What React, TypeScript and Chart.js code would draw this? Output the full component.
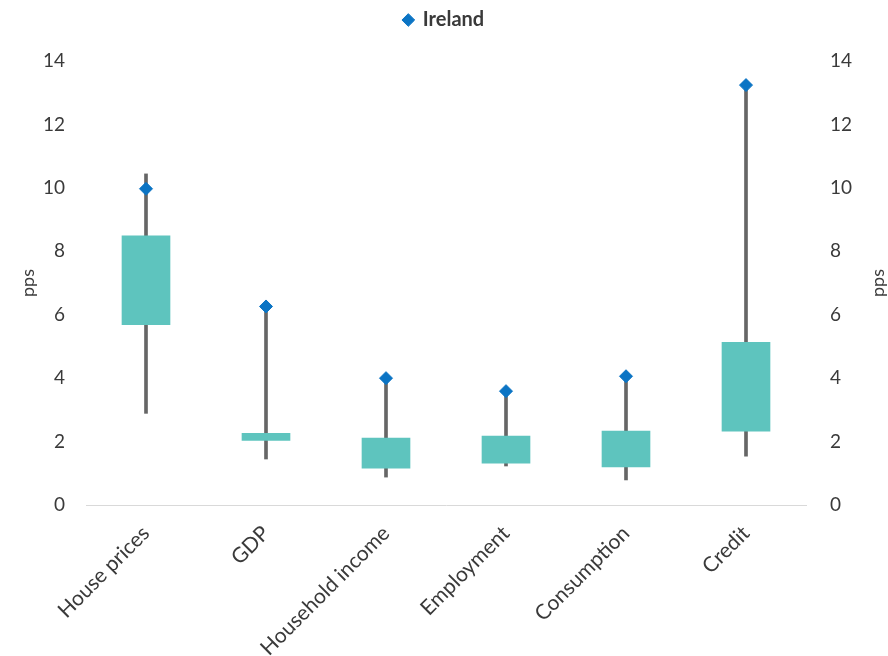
import React, { useEffect, useRef } from 'react';
import { Chart, registerables } from 'chart.js';

Chart.register(...registerables);

const categories = ['House prices', 'GDP', 'Household income', 'Employment', 'Consumption', 'Credit'];
const whiskerLow = [2.89, 1.45, 0.88, 1.23, 0.79, 1.54];
const whiskerHigh = [10.44, 6.26, 4.0, 3.59, 4.06, 13.24];
const boxLow = [5.69, 2.04, 1.16, 1.32, 1.2, 2.33];
const boxHigh = [8.49, 2.26, 2.11, 2.17, 2.33, 5.13];
const ireland = [9.97, 6.26, 4.0, 3.59, 4.06, 13.24];
const yMin = 0;
const yMax = 14;
const yStep = 2;
const axisTitle = 'pps';
const legendLabel = 'Ireland';

const FONT = 'Lato, "Open Sans", sans-serif';
const TEXT = '#3a3a3a';

const rightTitlePlugin = {
  id: 'rightTitle',
  afterDraw(chart: any) {
    const { ctx, chartArea } = chart;
    ctx.save();
    ctx.translate(chart.width - 10, (chartArea.top + chartArea.bottom) / 2);
    ctx.rotate(-Math.PI / 2);
    ctx.font = `18px ${FONT}`;
    ctx.fillStyle = TEXT;
    ctx.textAlign = 'center';
    ctx.textBaseline = 'middle';
    ctx.fillText(axisTitle, 0, 0);
    ctx.restore();
  },
};

const legendSpacerPlugin = {
  id: 'legendSpacer',
  beforeInit(chart: any) {
    const legend = chart.legend;
    if (!legend) return;
    const orig = legend.fit;
    legend.fit = function (this: any) {
      orig.call(this);
      this.height += 21;
    };
  },
};

export default function App() {
  const ref = useRef<HTMLCanvasElement | null>(null);

  useEffect(() => {
    if (!ref.current) return;
    const chart = new Chart(ref.current, {
      type: 'bar',
      data: {
        labels: categories,
        datasets: [
          {
            type: 'line',
            label: legendLabel,
            data: ireland,
            showLine: false,
            pointStyle: 'rectRot',
            pointRadius: 6.5,
            pointBackgroundColor: '#0b74c4',
            pointBorderColor: '#0b74c4',
            backgroundColor: '#0b74c4',
            borderColor: '#0b74c4',
            order: 0,
            yAxisID: 'y',
          } as any,
          {
            type: 'bar',
            label: 'box',
            data: categories.map((_, i) => [boxLow[i], boxHigh[i]]),
            backgroundColor: '#5ec4be',
            borderWidth: 0,
            barThickness: 48,
            grouped: false,
            order: 1,
            yAxisID: 'y',
          } as any,
          {
            type: 'bar',
            label: 'whisker',
            data: categories.map((_, i) => [whiskerLow[i], whiskerHigh[i]]),
            backgroundColor: '#666666',
            borderWidth: 0,
            barThickness: 3,
            grouped: false,
            order: 2,
            yAxisID: 'y',
          } as any,
        ],
      },
      options: {
        animation: false,
        responsive: true,
        maintainAspectRatio: false,
        layout: { padding: { top: 4, left: 0, right: 0, bottom: 0 } },
        plugins: {
          tooltip: { enabled: false },
          legend: {
            position: 'top',
            labels: {
              usePointStyle: true,
              pointStyle: 'rectRot',
              boxWidth: 9,
              boxHeight: 9,
              padding: 6,
              color: TEXT,
              font: { family: FONT, size: 20, weight: 'bold' },
              filter: (item: any) => item.text === legendLabel,
            },
          },
        },
        scales: {
          x: {
            grid: { display: false, drawTicks: false },
            border: { display: true, color: '#d9d9d9', width: 1 },
            ticks: {
              color: TEXT,
              font: { family: FONT, size: 21 },
              maxRotation: 45,
              minRotation: 45,
              padding: 16,
            },
            afterFit: (s: any) => { s.height = 151; },
          },
          y: {
            position: 'left',
            min: yMin,
            max: yMax,
            grid: { display: false, drawTicks: false },
            border: { display: false },
            ticks: {
              stepSize: yStep,
              color: TEXT,
              font: { family: FONT, size: 19 },
              padding: 21,
            },
            title: {
              display: true,
              text: axisTitle,
              color: TEXT,
              font: { family: FONT, size: 18 },
              padding: { top: 17, bottom: 0 },
            },
            afterFit: (s: any) => { s.width = 86; },
          },
          y2: {
            position: 'right',
            min: yMin,
            max: yMax,
            grid: { display: false, drawTicks: false },
            border: { display: false },
            ticks: {
              stepSize: yStep,
              color: TEXT,
              font: { family: FONT, size: 19 },
              padding: 24,
            },
            afterFit: (s: any) => { s.width = 82; },
          },
        },
      } as any,
      plugins: [rightTitlePlugin, legendSpacerPlugin],
    });
    return () => chart.destroy();
  }, []);

  return (
    <div style={{ position: 'fixed', left: 0, top: 0, width: 888, height: 656, background: '#fff' }}>
      <canvas ref={ref} />
    </div>
  );
}
